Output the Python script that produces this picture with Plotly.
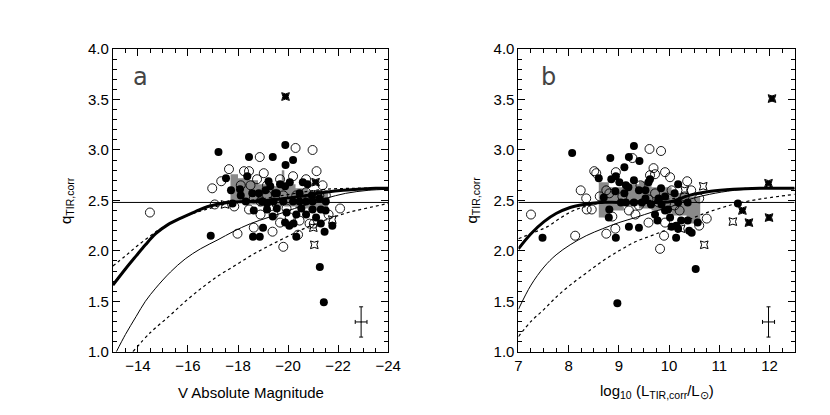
import plotly.graph_objects as go

# ---------------- Panel a data (V absolute magnitude) ----------------
fa_x = [-17.22, -18.44, -19.39, -19.89, -20.2, -19.9, -17.52, -17.72, -18.37, -18.08, -16.91, -18.63,
        -18.6, -18.87, -19.0, -19.39, -19.88, -20.05, -20.22, -20.33, -21.27, -21.43, -21.77, -21.46,
        -21.31, -21.5, -21.12, -20.53, -20.72, -20.95, -20.59, -20.78, -20.46, -20.07, -19.68, -19.88,
        -19.29, -19.1, -18.83, -19.48, -18.11, -17.78, -18.31, -19.16, -19.42, -19.81, -20.2, -20.46,
        -20.98, -21.25, -21.51, -18.96, -19.16, -19.55, -19.94, -20.33, -20.72, -20.98, -21.31, -18.57,
        -19.55, -19.22]
fa_y = [2.98, 2.93, 2.93, 3.05, 2.90, 2.85, 2.72, 2.60, 2.74, 2.61, 2.15, 2.40,
        2.14, 2.14, 2.23, 2.34, 2.28, 2.25, 2.27, 2.14, 1.84, 1.49, 2.25, 2.19,
        2.27, 2.40, 2.33, 2.42, 2.49, 2.55, 2.68, 2.66, 2.57, 2.68, 2.66, 2.64,
        2.64, 2.60, 2.57, 2.57, 2.55, 2.47, 2.49, 2.47, 2.49, 2.49, 2.49, 2.49,
        2.49, 2.52, 2.49, 2.49, 2.41, 2.42, 2.38, 2.36, 2.36, 2.41, 2.41, 2.57,
        2.57, 2.69]
oa_x = [-14.48, -16.97, -17.64, -18.24, -18.44, -18.87, -19.03, -20.3, -20.98, -21.14, -17.98, -18.63,
        -19.38, -19.81, -20.4, -19.68, -20.86, -22.08, -17.07, -17.33, -21.38, -20.72, -20.2, -18.76,
        -18.5, -19.16, -19.81, -18.44, -18.9, -19.94, -20.46, -21.03, -21.62, -17.85, -19.42, -21.25,
        -18.9, -20.33, -20.72, -18.11, -19.68, -19.16, -21.51, -20.59, -19.55, -18.63, -20.07]
oa_y = [2.38, 2.62, 2.81, 2.79, 2.79, 2.93, 2.77, 3.02, 3.00, 2.79, 2.17, 2.23,
        2.19, 2.04, 2.16, 2.28, 2.27, 2.42, 2.46, 2.69, 2.65, 2.71, 2.74, 2.71,
        2.65, 2.55, 2.55, 2.41, 2.36, 2.42, 2.30, 2.27, 2.36, 2.44, 2.36, 2.55,
        2.49, 2.55, 2.58, 2.65, 2.71, 2.65, 2.55, 2.49, 2.46, 2.52, 2.33]
sa_x = [-17.48, -21.01, -21.05, -21.77, -21.2]
sa_y = [2.46, 2.23, 2.06, 2.31, 2.56]
xa_x = [-19.9, -21.1]
xa_y = [3.53, 2.68]

# gray step band, panel a
band_a_edges = [-17.7, -18.0, -18.4, -18.8, -19.2, -19.75, -19.85, -20.3, -20.8, -21.3, -21.6]
band_a_top = [2.76, 2.72, 2.70, 2.66, 2.64, 2.80, 2.66, 2.62, 2.60, 2.57]
band_a_bot = [2.48, 2.48, 2.46, 2.44, 2.45, 2.45, 2.44, 2.42, 2.40, 2.42]

# curves, panel a
thick_a_x = [-13.0, -13.5, -13.93, -14.3, -14.71, -15.2, -15.76, -16.3, -16.8, -17.59, -18.5, -19.5, -20.46, -21.5, -22.2, -22.8, -23.5, -24.0]
thick_a_y = [1.66, 1.82, 1.95, 2.06, 2.17, 2.26, 2.33, 2.39, 2.44, 2.48, 2.49, 2.51, 2.54, 2.58, 2.60, 2.61, 2.62, 2.62]
thin_a_x = [-13.14, -13.5, -13.93, -14.3, -14.71, -15.3, -15.89, -16.5, -17.2, -17.8, -18.5, -19.2, -19.81, -20.72, -21.5, -22.3, -23.2, -24.0]
thin_a_y = [1.0, 1.17, 1.35, 1.5, 1.63, 1.79, 1.92, 2.02, 2.11, 2.19, 2.27, 2.33, 2.38, 2.46, 2.52, 2.57, 2.60, 2.61]
dotu_a_x = [-13.0, -13.5, -13.93, -14.45, -14.97, -15.5, -16.2, -17.0, -17.8, -18.8, -19.8, -20.8, -21.5, -22.5, -24.0]
dotu_a_y = [1.85, 1.95, 2.04, 2.14, 2.23, 2.30, 2.37, 2.43, 2.48, 2.51, 2.55, 2.59, 2.61, 2.62, 2.62]
dotl_a_x = [-13.8, -14.5, -15.24, -15.9, -16.54, -17.2, -17.85, -18.5, -19.16, -19.8, -20.46, -21.1, -21.77, -22.4, -23.08, -24.0]
dotl_a_y = [1.0, 1.19, 1.35, 1.50, 1.63, 1.75, 1.85, 1.95, 2.04, 2.12, 2.20, 2.27, 2.33, 2.38, 2.42, 2.47]

# ---------------- Panel b data (log10 L_TIR,corr) ----------------
fb_x = [7.48, 8.07, 8.83, 9.30, 9.11, 9.20, 9.41, 8.60, 8.85, 8.94, 8.70, 8.93, 9.01, 9.14, 9.11, 9.19,
        9.40, 9.59, 9.62, 9.84, 10.18, 10.11, 10.37, 8.81, 8.80, 8.94, 9.20, 9.40, 8.97, 9.64, 9.72, 9.77,
        9.85, 9.92, 10.02, 10.05, 10.14, 10.18, 10.14, 10.24, 10.37, 10.40, 10.45, 10.53, 10.57, 11.37,
        9.14, 9.30, 9.46, 9.04, 9.53, 9.79, 9.98, 10.18, 9.92, 9.30, 9.53]
fb_y = [2.13, 2.97, 2.92, 3.04, 2.83, 2.93, 2.89, 2.72, 2.71, 2.74, 2.53, 2.59, 2.68, 2.65, 2.57, 2.63,
        2.60, 2.68, 2.71, 2.62, 2.66, 2.57, 2.48, 2.41, 2.33, 2.13, 2.24, 2.23, 1.48, 2.46, 2.36, 2.30,
        2.46, 2.40, 2.33, 2.24, 2.25, 2.22, 2.13, 2.30, 2.30, 2.20, 2.18, 1.82, 2.28, 2.47,
        2.48, 2.48, 2.48, 2.48, 2.52, 2.52, 2.41, 2.48, 2.54, 2.70, 2.60]
ob_x = [7.25, 8.13, 8.24, 8.35, 8.51, 8.55, 8.75, 8.93, 8.94, 9.27, 9.61, 9.84, 9.69, 9.72, 9.92, 10.02,
        10.36, 9.62, 9.90, 9.82, 10.75, 10.60, 10.60, 9.43, 8.46, 8.62, 8.75, 9.07, 9.20, 9.33, 9.59, 9.79,
        10.05, 10.11, 10.31, 10.44, 9.59, 9.40, 8.87, 8.36, 9.92, 8.81, 9.72, 10.21]
ob_y = [2.36, 2.15, 2.60, 2.52, 2.79, 2.77, 2.17, 2.22, 2.78, 2.92, 3.01, 2.99, 2.82, 2.76, 2.78, 2.73,
        2.69, 2.75, 2.15, 2.02, 2.32, 2.52, 2.25, 2.65, 2.41, 2.54, 2.60, 2.54, 2.40, 2.36, 2.28, 2.48,
        2.60, 2.45, 2.54, 2.60, 2.51, 2.45, 2.34, 2.41, 2.28, 2.57, 2.57, 2.40]
sb_x = [10.31, 10.68, 10.70, 10.24, 11.27]
sb_y = [2.60, 2.64, 2.06, 2.22, 2.29]
xb_x = [12.05, 11.98, 11.46, 11.59, 11.99]
xb_y = [3.51, 2.67, 2.40, 2.28, 2.33]

band_b_edges = [8.6, 8.8, 9.1, 9.4, 9.65, 10.05, 10.35, 10.62]
band_b_top = [2.68, 2.63, 2.66, 2.69, 2.63, 2.57, 2.54]
band_b_bot = [2.33, 2.40, 2.45, 2.42, 2.40, 2.35, 2.27]

thick_b_x = [7.0, 7.25, 7.51, 7.75, 8.03, 8.3, 8.62, 9.0, 9.5, 10.05, 10.4, 10.83, 11.28, 11.8, 12.5]
thick_b_y = [2.02, 2.17, 2.29, 2.37, 2.43, 2.46, 2.48, 2.48, 2.48, 2.49, 2.55, 2.59, 2.61, 2.62, 2.62]
thin_b_x = [7.0, 7.25, 7.51, 7.75, 8.03, 8.35, 8.68, 9.0, 9.33, 9.7, 10.05, 10.4, 10.8, 11.3, 12.0, 12.5]
thin_b_y = [1.42, 1.66, 1.84, 1.96, 2.06, 2.15, 2.22, 2.28, 2.33, 2.39, 2.44, 2.51, 2.56, 2.60, 2.62, 2.62]
dotu_b_x = [7.0, 7.3, 7.58, 7.85, 8.1, 8.5, 9.0, 9.6, 10.1, 10.5, 11.0, 11.6, 12.5]
dotu_b_y = [2.12, 2.18, 2.24, 2.33, 2.40, 2.46, 2.49, 2.50, 2.52, 2.56, 2.60, 2.62, 2.62]
dotl_b_x = [7.0, 7.25, 7.51, 7.75, 8.03, 8.35, 8.68, 9.0, 9.33, 9.7, 10.05, 10.4, 10.7, 11.0, 11.35, 11.9, 12.5]
dotl_b_y = [1.15, 1.30, 1.42, 1.54, 1.66, 1.78, 1.90, 2.00, 2.09, 2.16, 2.23, 2.31, 2.37, 2.42, 2.47, 2.52, 2.56]

q_ref = 2.48
err_a = dict(x=-22.92, y=1.295, ex=0.235, ey=0.15)
err_b = dict(x=11.98, y=1.295, ex=0.12, ey=0.15)

x_ticks_a = [-14, -16, -18, -20, -22, -24]
x_ticks_b = [7, 8, 9, 10, 11, 12]
y_ticks = [1.0, 1.5, 2.0, 2.5, 3.0, 3.5, 4.0]
x_range_a = [-13, -24]
x_range_b = [7, 12.5]
y_range = [1.0, 4.0]

FONT = "Liberation Sans"
fig = go.Figure()


def band_poly(edges, tops, bots):
    xs, ys = [], []
    for i in range(len(tops)):
        xs += [edges[i], edges[i + 1]]
        ys += [tops[i], tops[i]]
    for i in reversed(range(len(bots))):
        xs += [edges[i + 1], edges[i]]
        ys += [bots[i], bots[i]]
    return xs, ys


def add_panel(xa, ya, edges, tops, bots, curves, hx, fx, fy, ox, oy, sx, sy, xx, xy, err):
    bx, by = band_poly(edges, tops, bots)
    fig.add_trace(go.Scatter(x=bx, y=by, fill="toself", fillcolor="#8a8a8a", mode="none",
                             xaxis=xa, yaxis=ya, hoverinfo="skip"))
    fig.add_trace(go.Scatter(x=hx, y=[q_ref, q_ref], mode="lines",
                             line=dict(color="black", width=1), xaxis=xa, yaxis=ya))
    for (cx, cy, w, dash) in curves:
        fig.add_trace(go.Scatter(x=cx, y=cy, mode="lines", line=dict(color="black", width=w, dash=dash, shape="spline"),
                                 xaxis=xa, yaxis=ya))
    fig.add_trace(go.Scatter(x=ox, y=oy, mode="markers",
                             marker=dict(symbol="circle-open", size=9, color="black", line=dict(width=0.9)),
                             xaxis=xa, yaxis=ya))
    fig.add_trace(go.Scatter(x=fx, y=fy, mode="markers",
                             marker=dict(symbol="circle", size=8, color="black"),
                             xaxis=xa, yaxis=ya))
    fig.add_trace(go.Scatter(x=sx, y=sy, mode="markers",
                             marker=dict(symbol="star-square-open", size=7, color="black", line=dict(width=1)),
                             xaxis=xa, yaxis=ya))
    fig.add_trace(go.Scatter(x=xx, y=xy, mode="markers",
                             marker=dict(symbol="star-square", size=7, color="black", line=dict(width=1, color="black")),
                             xaxis=xa, yaxis=ya))
    fig.add_trace(go.Scatter(x=[err["x"]], y=[err["y"]], mode="markers",
                             marker=dict(size=1, color="black"),
                             error_x=dict(type="constant", value=err["ex"], color="black", thickness=1, width=2),
                             error_y=dict(type="constant", value=err["ey"], color="black", thickness=1, width=2),
                             xaxis=xa, yaxis=ya))


add_panel("x", "y", band_a_edges, band_a_top, band_a_bot,
          [(thick_a_x, thick_a_y, 3, "solid"), (thin_a_x, thin_a_y, 1, "solid"),
           (dotu_a_x, dotu_a_y, 1.2, "dot"), (dotl_a_x, dotl_a_y, 1.2, "dot")],
          x_range_a, fa_x, fa_y, oa_x, oa_y, sa_x, sa_y, xa_x, xa_y, err_a)
add_panel("x2", "y2", band_b_edges, band_b_top, band_b_bot,
          [(thick_b_x, thick_b_y, 3, "solid"), (thin_b_x, thin_b_y, 1, "solid"),
           (dotu_b_x, dotu_b_y, 1.2, "dot"), (dotl_b_x, dotl_b_y, 1.2, "dot")],
          x_range_b, fb_x, fb_y, ob_x, ob_y, sb_x, sb_y, xb_x, xb_y, err_b)

# invisible traces on mirror axes (so top/right minor ticks get drawn)
for xa, ya, xr in (("x3", "y3", x_range_a), ("x4", "y4", x_range_b)):
    fig.add_trace(go.Scatter(x=xr, y=y_range, mode="markers", marker=dict(size=0.1, opacity=0),
                             xaxis=xa, yaxis=ya, hoverinfo="skip"))

axis_common = dict(showline=True, linecolor="black", linewidth=1, mirror=True, ticks="inside",
                   ticklen=7, tickwidth=1, tickcolor="black", showgrid=False, zeroline=False,
                   tickfont=dict(family=FONT, size=15, color="black"))

W, H = 830, 415
ytop, ybot = 1 - 33.5 / H, 1 - 349 / H
dom_a = [103 / W, 384 / W]
dom_b = [517 / W, 799 / W]


def minor(d):
    return dict(dtick=d, ticks="inside", ticklen=4, tickcolor="black", showgrid=False)


mirror_common = dict(showline=False, ticks="inside", ticklen=7, tickwidth=1, tickcolor="black",
                     showgrid=False, zeroline=False, showticklabels=False)

fig.update_layout(
    width=W, height=H, margin=dict(l=0, r=0, t=0, b=0),
    paper_bgcolor="white", plot_bgcolor="white", showlegend=False,
    xaxis=dict(domain=dom_a, range=x_range_a, tickvals=x_ticks_a, minor=minor(0.5), anchor="y", **axis_common),
    yaxis=dict(domain=[ybot, ytop], range=y_range, tickvals=y_ticks, tickformat=".1f", minor=minor(0.1),
               anchor="x", **axis_common),
    xaxis2=dict(domain=dom_b, range=x_range_b, tickvals=x_ticks_b, minor=minor(0.25), anchor="y2", **axis_common),
    yaxis2=dict(domain=[ybot, ytop], range=y_range, tickvals=y_ticks, tickformat=".1f", minor=minor(0.1),
                anchor="x2", **axis_common),
    xaxis3=dict(domain=dom_a, range=x_range_a, tickvals=x_ticks_a, minor=minor(0.5), side="top",
                overlaying="x", anchor="y3", **mirror_common),
    yaxis3=dict(domain=[ybot, ytop], range=y_range, tickvals=y_ticks, minor=minor(0.1), side="right",
                overlaying="y", anchor="x3", **mirror_common),
    xaxis4=dict(domain=dom_b, range=x_range_b, tickvals=x_ticks_b, minor=minor(0.25), side="top",
                overlaying="x2", anchor="y4", **mirror_common),
    yaxis4=dict(domain=[ybot, ytop], range=y_range, tickvals=y_ticks, minor=minor(0.1), side="right",
                overlaying="y2", anchor="x4", **mirror_common),
)

ann_font = dict(family=FONT, size=15, color="black")
fig.add_annotation(text="V Absolute Magnitude", x=243.5 / W, y=1 - 392 / H, xref="paper", yref="paper",
                   showarrow=False, font=ann_font, xanchor="center", yanchor="middle")
fig.add_annotation(text="log<sub>10</sub> (L<sub>TIR,corr</sub>/L<sub>⊙</sub>)", x=658 / W, y=1 - 391 / H,
                   xref="paper", yref="paper", showarrow=False, font=ann_font, xanchor="center", yanchor="middle")
for xp in (55 / W, 470 / W):
    fig.add_annotation(text="q<sub>TIR,corr</sub>", x=xp, y=1 - 191 / H, xref="paper", yref="paper",
                       showarrow=False, font=ann_font, textangle=-90, xanchor="center", yanchor="middle")
fig.add_annotation(text="a", x=-14.12, y=3.72, xref="x", yref="y", showarrow=False,
                   font=dict(family="DejaVu Sans ExtraLight, DejaVu Sans", size=24, color="#444"))
fig.add_annotation(text="b", x=7.59, y=3.72, xref="x2", yref="y2", showarrow=False,
                   font=dict(family="DejaVu Sans ExtraLight, DejaVu Sans", size=24, color="#444"))

fig.write_html("out.html")
